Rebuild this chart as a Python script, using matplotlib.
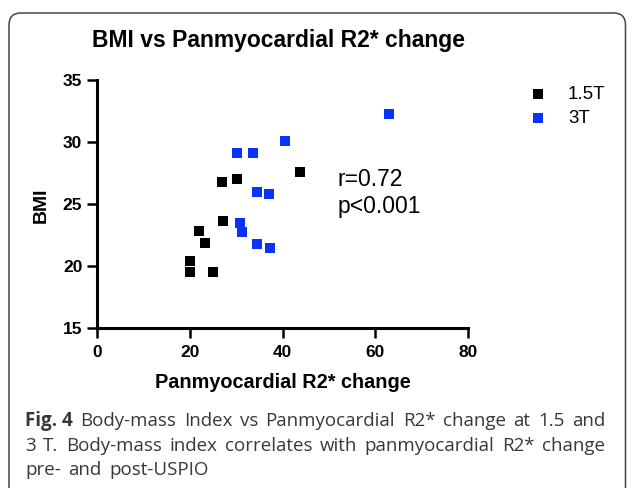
import matplotlib
matplotlib.use("Agg")
import matplotlib.pyplot as plt
from matplotlib.patches import FancyBboxPatch

# ---- data ----
x_15T = [20.1, 20.1, 25.0, 22.0, 23.3, 26.9, 27.1, 30.3, 43.8]
y_15T = [20.4, 19.5, 19.5, 22.85, 21.85, 26.75, 23.65, 27.05, 27.6]
x_3T = [30.1, 33.6, 40.5, 63.0, 34.6, 37.1, 30.8, 31.3, 34.6, 37.3]
y_3T = [29.1, 29.15, 30.1, 32.25, 26.0, 25.8, 23.5, 22.75, 21.8, 21.5]
series_labels = ["1.5T", "3T"]
x_ticks = [0, 20, 40, 60, 80]
y_ticks = [15, 20, 25, 30, 35]
title = "BMI vs Panmyocardial R2* change"
xlabel = "Panmyocardial R2* change"
ylabel = "BMI"
stats = ["r=0.72", "p<0.001"]
caption_lines = [
    [("Fig. 4", True), ("Body-mass", False), ("Index", False), ("vs", False),
     ("Panmyocardial", False), ("R2*", False), ("change", False), ("at", False),
     ("1.5", False), ("and", False)],
    [("3", False), ("T.", False), ("Body-mass", False), ("index", False),
     ("correlates", False), ("with", False), ("panmyocardial", False),
     ("R2*", False), ("change", False)],
]
caption_last = ["pre-", "and", "post-USPIO"]

W, H = 627, 488
fig = plt.figure(figsize=(W / 100, H / 100), dpi=100)

chart_font = ["Liberation Sans", "DejaVu Sans"]
cap_font = ["Open Sans", "DejaVu Sans"]

# background frame (pixel coordinates)
bg = fig.add_axes([0, 0, 1, 1], zorder=-1)
bg.set_xlim(0, W)
bg.set_ylim(H, 0)
bg.axis("off")
frame = FancyBboxPatch((9, 13), 616.5, 600, boxstyle="round,pad=0,rounding_size=12",
                       fill=False, edgecolor="#444444", linewidth=1.1)
bg.add_patch(frame)

ax = fig.add_axes([96.7 / W, 1 - 328.3 / H, 371.6 / W, 248.3 / H])
ax.scatter(x_15T, y_15T, marker="s", s=52, color="#000000", label=series_labels[0],
           linewidths=0, zorder=3)
ax.scatter(x_3T, y_3T, marker="s", s=52, color="#0a32ff", label=series_labels[1],
           linewidths=0, zorder=3)
ax.set_xlim(0, 80)
ax.set_ylim(15, 35)
ax.set_xticks(x_ticks)
ax.set_yticks(y_ticks)
for s in ["top", "right"]:
    ax.spines[s].set_visible(False)
for s in ["left", "bottom"]:
    ax.spines[s].set_linewidth(2.2)
ax.tick_params(axis="both", direction="out", length=7, width=1.8)
ax.tick_params(axis="y", pad=3.4)
ax.tick_params(axis="x", pad=5)
for lab in ax.get_xticklabels() + ax.get_yticklabels():
    lab.set_fontfamily(chart_font)
    lab.set_fontweight("bold")
    lab.set_fontsize(12.5)

ax.text(51.9, 26.95, stats[0], va="center", ha="left", fontsize=16.5, family=chart_font)
ax.text(51.9, 24.8, stats[1], va="center", ha="left", fontsize=16.5, family=chart_font)

leg = ax.legend(loc="upper left", bbox_to_anchor=(528.6 / W, 1 - 86 / H),
                bbox_transform=fig.transFigure, frameon=False, handlelength=1.0,
                handletextpad=1.1, labelspacing=0.35, borderpad=0, borderaxespad=0,
                prop={"family": chart_font, "size": 13.5}, markerscale=0.95)

fig.text(279 / W, 1 - 46.7 / H, title, ha="center", va="baseline", fontsize=16.5,
         fontweight="bold", family=chart_font)
fig.text(282.5 / W, 1 - 388 / H, xlabel, ha="center", va="baseline", fontsize=14.3,
         fontweight="bold", family=chart_font)
fig.text(41 / W, 1 - 205 / H, ylabel, ha="center", va="center", rotation=90,
         fontsize=14, fontweight="bold", family=chart_font)

# caption: justified lines
cap_size = 13.5
cap_color = "#383838"
left_px, right_px = 25, 605
baselines = [426, 451, 475]
renderer = fig.canvas.get_renderer()


def place_words(words, base, right=None, gap=None):
    texts = []
    for word, bold in words:
        t = fig.text(0, 1 - base / H, word, ha="left", va="baseline", fontsize=cap_size,
                     fontweight="bold" if bold else "normal", family=cap_font,
                     color=cap_color)
        texts.append(t)
    widths = [t.get_window_extent(renderer).width for t in texts]
    if gap is None:
        gap = (right - left_px - sum(widths)) / (len(texts) - 1)
    x = left_px
    for t, w in zip(texts, widths):
        t.set_x(x / W)
        x += w + gap
    return gap


gaps = []
for line, base in zip(caption_lines, baselines):
    gaps.append(place_words(line, base, right=right_px))
place_words([(w, False) for w in caption_last], baselines[2], gap=gaps[1])

fig.savefig("out.png", dpi=100)
